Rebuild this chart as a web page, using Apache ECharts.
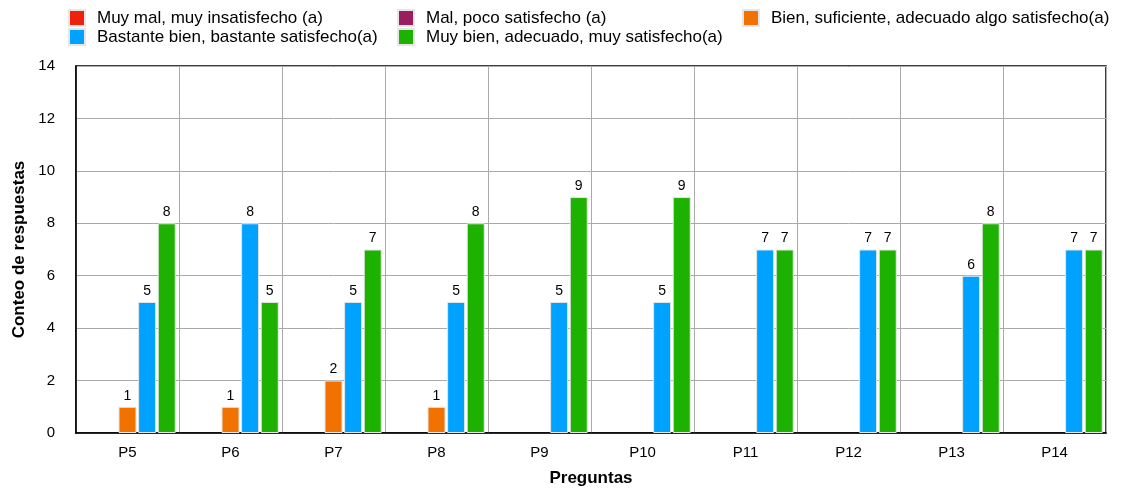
<!DOCTYPE html>
<html>
<head>
<meta charset="utf-8">
<script src="https://cdn.jsdelivr.net/npm/echarts@6/dist/echarts.min.js"></script>
<style>html,body{margin:0;padding:0;background:#fff}#c{width:1122px;height:488px}</style>
</head>
<body>
<div id="c"></div>
<script>
var categories = ['P5','P6','P7','P8','P9','P10','P11','P12','P13','P14'];
var seriesNames = [
  'Muy mal, muy insatisfecho (a)',
  'Mal, poco satisfecho (a)',
  'Bien, suficiente, adecuado algo satisfecho(a)',
  'Bastante bien, bastante satisfecho(a)',
  'Muy bien, adecuado, muy satisfecho(a)'
];
var muyMal       = [0,0,0,0,0,0,0,0,0,0];
var mal          = [0,0,0,0,0,0,0,0,0,0];
var bien         = [1,1,2,1,0,0,0,0,0,0];
var bastanteBien = [5,8,5,5,5,5,7,7,6,7];
var muyBien      = [8,5,7,8,9,9,7,7,8,7];
var yTicks = [0,2,4,6,8,10,12,14];

var colors = ['#EE220C','#991E5F','#F27200','#00A2FF','#1DB100'];
var allData = [muyMal, mal, bien, bastanteBien, muyBien];
var font = 'Helvetica, "Liberation Sans", Arial, sans-serif';

var series = allData.map(function(d, i){
  return {
    name: seriesNames[i],
    type: 'bar',
    data: d.map(function(v){ return v === 0 ? null : v; }),
    barWidth: 18,
    barGap: '9%',
    itemStyle: {color: colors[i], borderColor: '#e6e6e6', borderWidth: 1},
    label: {show: true, position: 'top', distance: 4, color: '#000', fontSize: 14, fontFamily: font},
    emphasis: {disabled: true}
  };
});

var legendPos = [
  {left: 68, top: 9},
  {left: 397, top: 9},
  {left: 742, top: 9},
  {left: 68, top: 28},
  {left: 397, top: 28}
];
var legends = seriesNames.map(function(n, i){
  return {
    data: [n],
    left: legendPos[i].left, top: legendPos[i].top,
    itemWidth: 16, itemHeight: 16, icon: 'rect',
    padding: 0,
    selectedMode: false,
    textStyle: {fontSize: 17, color: '#000', fontFamily: font, padding: [0,0,0,7]}
  };
});

var chart = echarts.init(document.getElementById('c'), null, {renderer: 'canvas'});
chart.setOption({
  animation: false,
  color: colors,
  legend: legends,
  grid: {left: 76, right: 16, top: 66, bottom: 55, show: true, borderColor: '#000', borderWidth: 1.5, containLabel: false, outerBoundsMode: 'none'},
  xAxis: {
    type: 'category',
    data: categories,
    name: 'Preguntas',
    nameLocation: 'middle',
    nameGap: 37,
    nameTextStyle: {fontSize: 17, fontWeight: 'bold', color: '#000', fontFamily: font},
    axisLine: {lineStyle: {color: '#000', width: 1.5}},
    axisTick: {show: false},
    axisLabel: {color: '#000', fontSize: 15, margin: 12, fontFamily: font},
    splitLine: {show: true, interval: 0, lineStyle: {color: '#aaaaaa', width: 1}}
  },
  yAxis: {
    type: 'value',
    min: yTicks[0], max: yTicks[yTicks.length-1], interval: 2,
    name: 'Conteo de respuestas',
    nameLocation: 'middle',
    nameGap: 48,
    nameTextStyle: {fontSize: 17, fontWeight: 'bold', color: '#000', fontFamily: font},
    axisLine: {show: true, lineStyle: {color: '#000', width: 1.5}},
    axisTick: {show: false},
    axisLabel: {color: '#000', fontSize: 15, margin: 21, fontFamily: font},
    splitLine: {show: true, lineStyle: {color: '#aaaaaa', width: 1}}
  },
  series: series
});
</script>
</body>
</html>
